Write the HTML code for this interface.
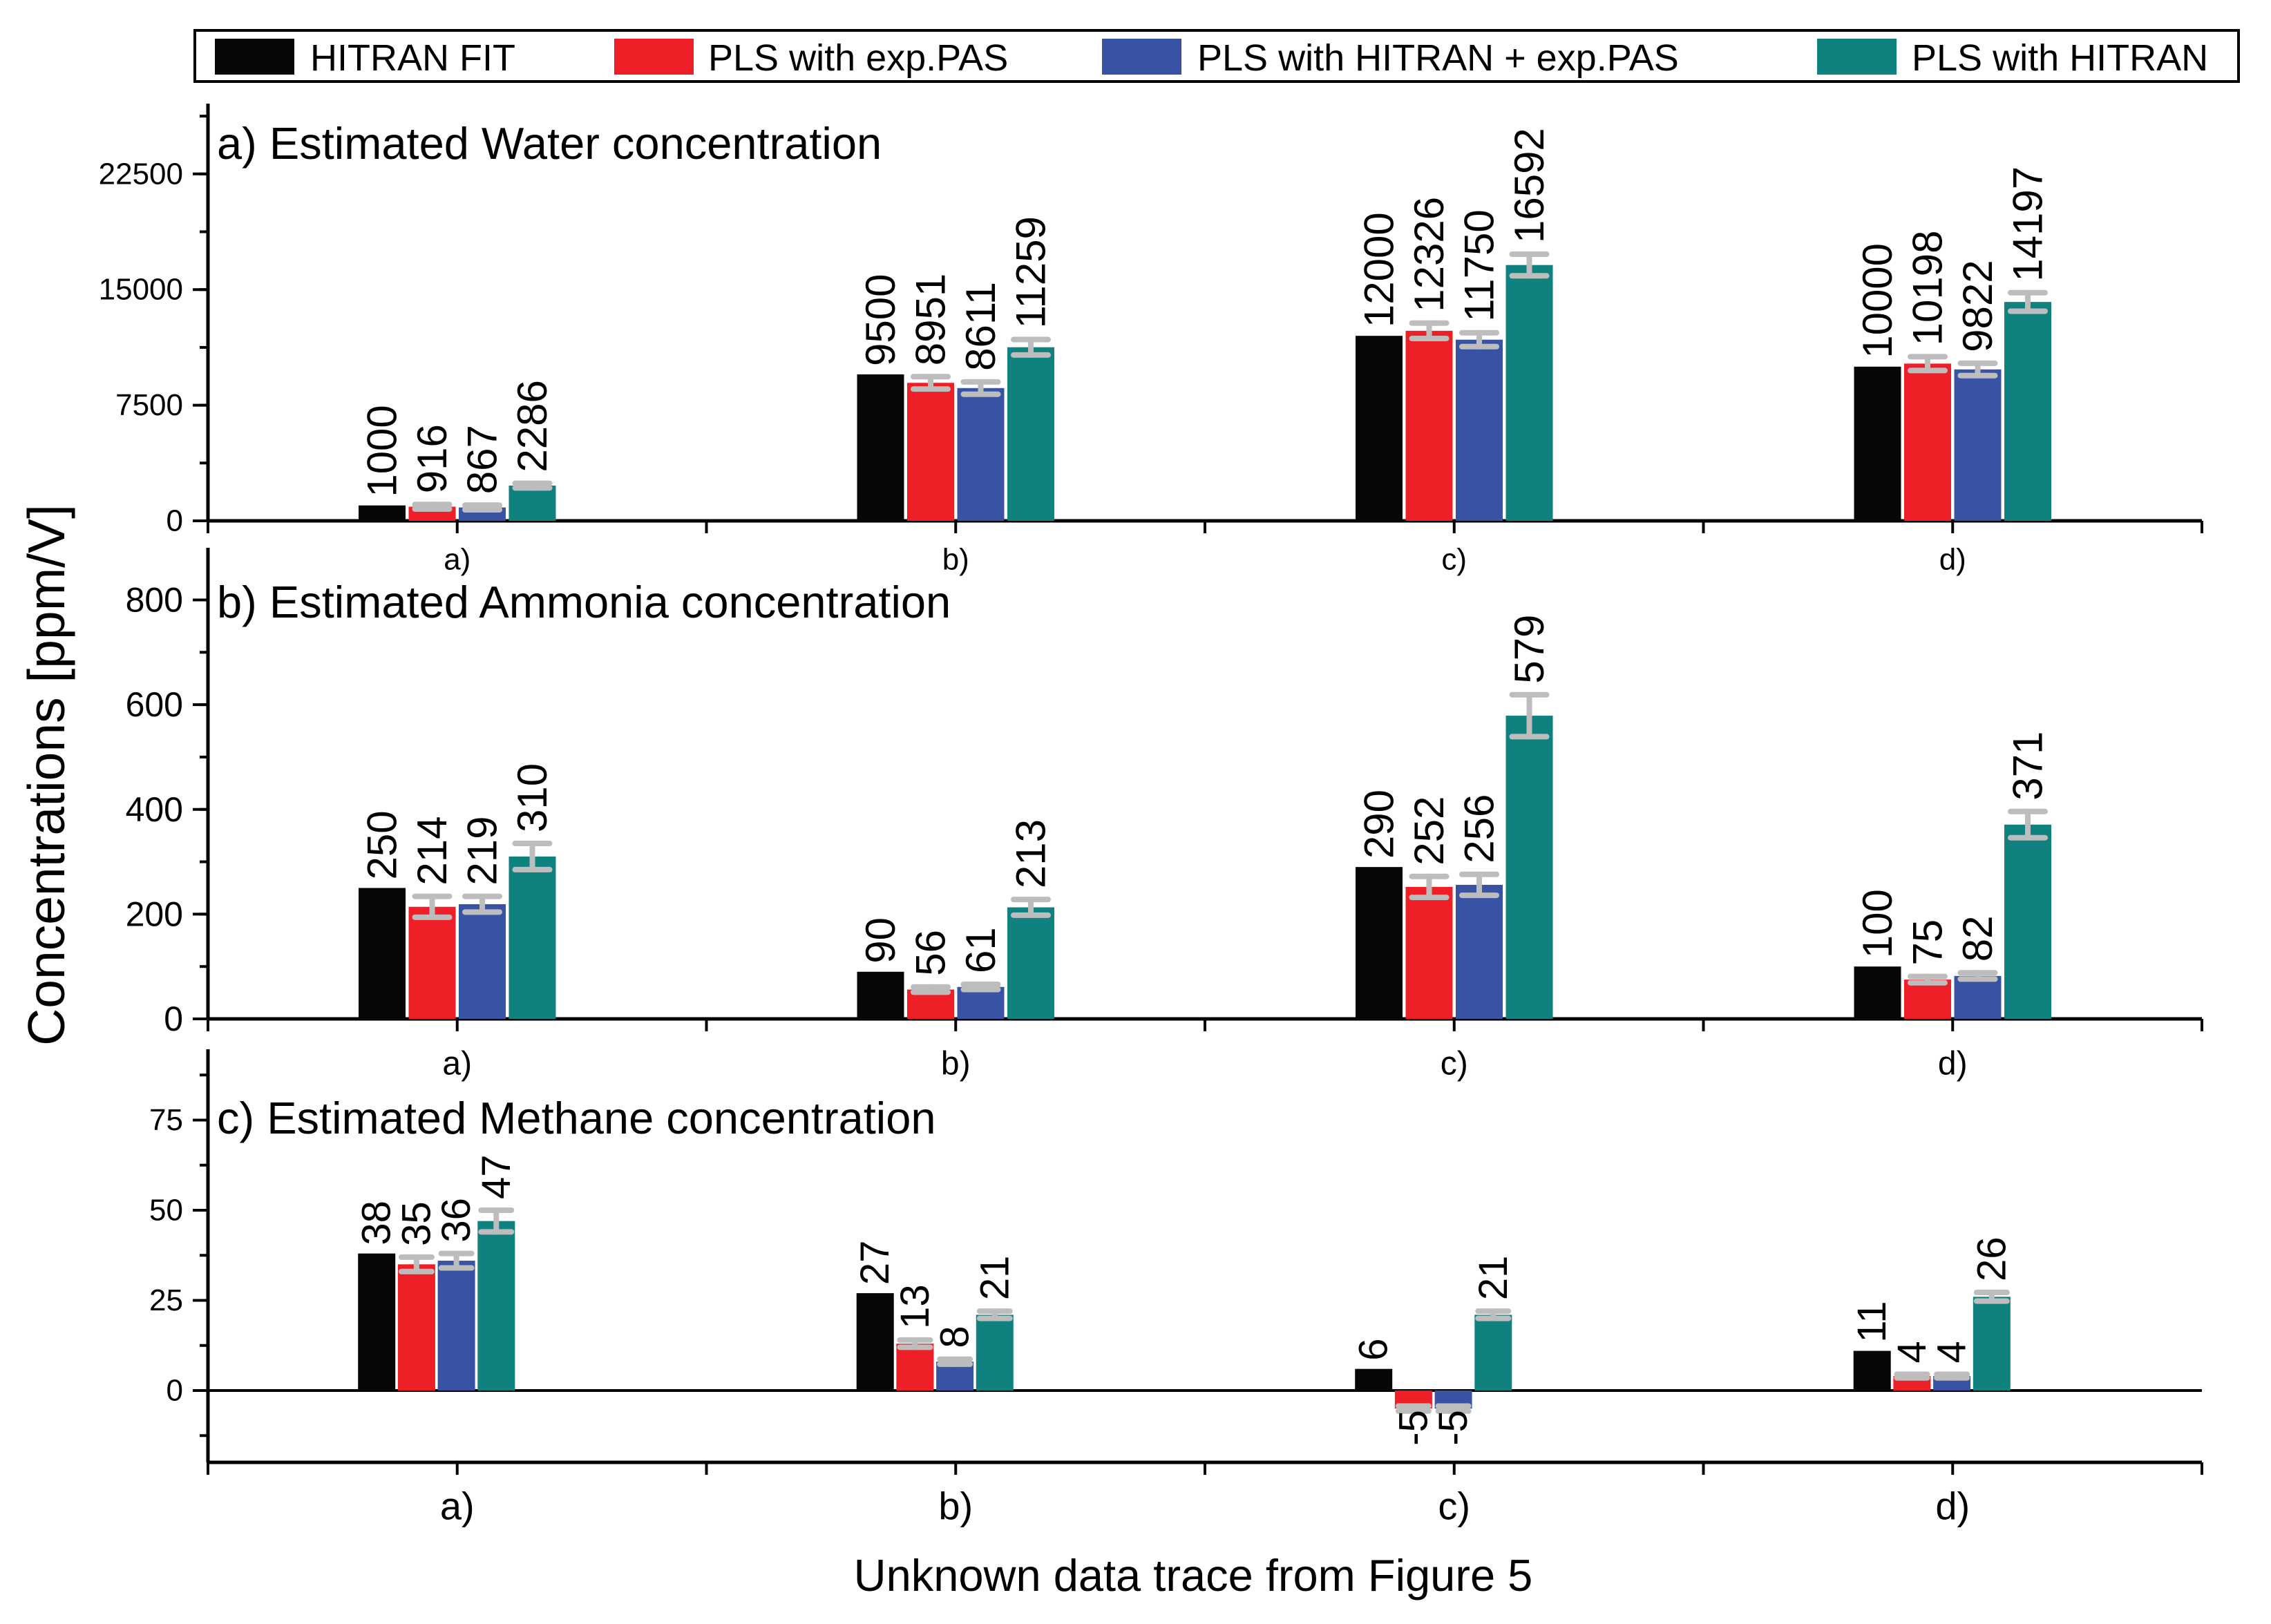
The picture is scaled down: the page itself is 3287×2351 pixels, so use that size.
<!DOCTYPE html>
<html><head><meta charset="utf-8"><style>
html,body{margin:0;padding:0;background:#fff}
svg{display:block;font-family:"Liberation Sans",Arial,sans-serif}
</style></head><body>
<svg id="chart" width="3287" height="2351" viewBox="0 0 3287 2351">
<rect width="3287" height="2351" fill="#fff"/>
<g id="legend">
<rect x="282" y="44" width="2958" height="74" fill="#fff" stroke="#000" stroke-width="4"/>
</g>
<text x="67" y="1122" font-size="75" text-anchor="middle" transform="rotate(-90 67 1122)" dominant-baseline="central">Concentrations [ppm/V]</text>
<text x="1727" y="2303" font-size="65" text-anchor="middle">Unknown data trace from Figure 5</text>
</svg>
<script>
const categories = ["a)", "b)", "c)", "d)"];
const seriesNames = ["HITRAN FIT", "PLS with exp.PAS", "PLS with HITRAN + exp.PAS", "PLS with HITRAN"];
const waterFit = [1000, 9500, 12000, 10000];
const waterExp = [916, 8951, 12326, 10198];
const waterMix = [867, 8611, 11750, 9822];
const waterHitran = [2286, 11259, 16592, 14197];
const waterErr = [[0,0,0,0],[150,400,500,450],[150,400,450,400],[150,500,700,600]];
const ammoniaFit = [250, 90, 290, 100];
const ammoniaExp = [214, 56, 252, 75];
const ammoniaMix = [219, 61, 256, 82];
const ammoniaHitran = [310, 213, 579, 371];
const ammoniaErr = [[0,0,0,0],[20,5,20,6],[15,5,20,6],[25,15,40,25]];
const methaneFit = [38, 27, 6, 11];
const methaneExp = [35, 13, -5, 4];
const methaneMix = [36, 8, -5, 4];
const methaneHitran = [47, 21, 21, 26];
const methaneErr = [[0,0,0,0],[2,1,0.7,0.5],[2,0.7,0.7,0.5],[3,1,1,1.2]];
const waterTicks = [0, 7500, 15000, 22500];
const ammoniaTicks = [0, 200, 400, 600, 800];
const methaneTicks = [0, 25, 50, 75];

const colors = ["#060807", "#ee1f26", "#3953a4", "#0f8280"];
const NS = "http://www.w3.org/2000/svg";
const svg = document.getElementById("chart");
function mk(tag, attrs, parent) {
  const e = document.createElementNS(NS, tag);
  for (const k in attrs) e.setAttribute(k, attrs[k]);
  (parent || svg).appendChild(e);
  return e;
}
const X0 = 301, X1 = 3187, half = (X1 - X0) / 8;
function xCat(i) { return X0 + half * (2 * i + 1); }

const legendX = [[311, 449], [889, 1025], [1595, 1733], [2630, 2767]];
const lg = document.getElementById("legend");
seriesNames.forEach((n, i) => {
  const r = mk("rect", {x: legendX[i][0], y: 56, width: 115, height: 52, fill: colors[i]}, lg);
  
  
  const t = mk("text", {x: legendX[i][1], y: 102, "font-size": 54}, lg);
  t.textContent = n;
  
  
});

function panel(cfg) {
  const g = mk("g", {});
  
  
  const y = v => cfg.y0 - (v - 0) * cfg.pxPer;
  mk("line", {x1: X0, x2: X0, y1: cfg.top, y2: cfg.bottom, stroke: "#000", "stroke-width": 5}, g);
  cfg.ticks.forEach(t => {
    mk("line", {x1: X0 - 22, x2: X0, y1: y(t), y2: y(t), stroke: "#000", "stroke-width": 4}, g);
    const tx = mk("text", {x: X0 - 36, y: y(t), "font-size": cfg.tickFont, "text-anchor": "end", "dominant-baseline": "central"}, g);
    tx.textContent = t;
    
    
  });
  for (let v = cfg.minorStart; v <= cfg.max; v += cfg.minor) {
    if (y(v) < cfg.top || y(v) > cfg.bottom) continue;
    mk("line", {x1: X0 - 12, x2: X0, y1: y(v), y2: y(v), stroke: "#000", "stroke-width": 4}, g);
  }
  mk("line", {x1: X0, x2: X1, y1: cfg.bottom, y2: cfg.bottom, stroke: "#000", "stroke-width": 5}, g);
  if (cfg.zeroLine) mk("line", {x1: X0, x2: X1, y1: y(0), y2: y(0), stroke: "#000", "stroke-width": 4}, g);
  for (let k = 0; k <= 8; k++) {
    mk("line", {x1: X0 + half * k, x2: X0 + half * k, y1: cfg.bottom, y2: cfg.bottom + 18, stroke: "#000", "stroke-width": 4}, g);
  }
  categories.forEach((c, i) => {
    const t = mk("text", {x: xCat(i), y: cfg.catY, "font-size": cfg.catFont, "text-anchor": "middle", "dominant-baseline": "central"}, g);
    t.textContent = c;
    
    
  });
  const title = mk("text", {x: 314, y: cfg.titleY, "font-size": 65}, g);
  title.textContent = cfg.title;
  
  
  cfg.series.forEach((vals, s) => {
    vals.forEach((v, i) => {
      const cx = xCat(i) + cfg.shift + (s - 1.5) * cfg.step;
      const yt = y(Math.max(v, 0)), yb = y(Math.min(v, 0));
      const b = mk("rect", {x: cx - cfg.bw / 2, y: yt, width: cfg.bw, height: Math.max(yb - yt, 1), fill: colors[s]}, g);
      
      
      const e = cfg.err[s][i];
      let ext = v >= 0 ? yt : yb;
      if (e > 0) {
        const ya = y(v + e), yb2 = y(v - e);
        const eg = mk("g", {stroke: "#bdbdbd", "stroke-width": 8, "stroke-linecap": "round"}, g);
        
        
        mk("line", {x1: cx, x2: cx, y1: ya, y2: yb2}, eg);
        mk("line", {x1: cx - cfg.cap / 2, x2: cx + cfg.cap / 2, y1: ya, y2: ya}, eg);
        mk("line", {x1: cx - cfg.cap / 2, x2: cx + cfg.cap / 2, y1: yb2, y2: yb2}, eg);
        ext = v >= 0 ? Math.min(ya - 4, yt) : yb;
      }
      let ly, anchor;
      if (v >= 0) { ly = ext - 12; anchor = "start"; } else { ly = ext + 2; anchor = "end"; }
      const lt = mk("text", {x: cx, y: ly, "font-size": cfg.valFont, "text-anchor": anchor, "dominant-baseline": "central", transform: `rotate(-90 ${cx} ${ly})`}, g);
      lt.textContent = v;
      
      
    });
  });
}

panel({name: "water-panel", title: "a) Estimated Water concentration", titleY: 230,
  series: [waterFit, waterExp, waterMix, waterHitran], err: waterErr, ticks: waterTicks,
  y0: 754, pxPer: 167.4 / 7500, top: 150, bottom: 754, max: 27000, minor: 3750, minorStart: 3750,
  tickFont: 44, catY: 810, catFont: 44, bw: 68, step: 72.5, shift: 0, cap: 50, valFont: 60});
panel({name: "ammonia-panel", title: "b) Estimated Ammonia concentration", titleY: 894,
  series: [ammoniaFit, ammoniaExp, ammoniaMix, ammoniaHitran], err: ammoniaErr, ticks: ammoniaTicks,
  y0: 1475, pxPer: (1475 - 868.5) / 800, top: 793, bottom: 1475, max: 900, minor: 100, minorStart: 100,
  tickFont: 50, catY: 1540, catFont: 48, bw: 68, step: 72.5, shift: 0, cap: 50, valFont: 60});
panel({name: "methane-panel", title: "c) Estimated Methane concentration", titleY: 1641,
  series: [methaneFit, methaneExp, methaneMix, methaneHitran], err: methaneErr, ticks: methaneTicks,
  y0: 2013, pxPer: 130.5 / 25, top: 1519, bottom: 2117, max: 95, minor: 12.5, minorStart: -12.5,
  tickFont: 44, catY: 2180, catFont: 56, bw: 54, step: 57.7, shift: -30, cap: 44, valFont: 58, zeroLine: true});
</script>
</body></html>
